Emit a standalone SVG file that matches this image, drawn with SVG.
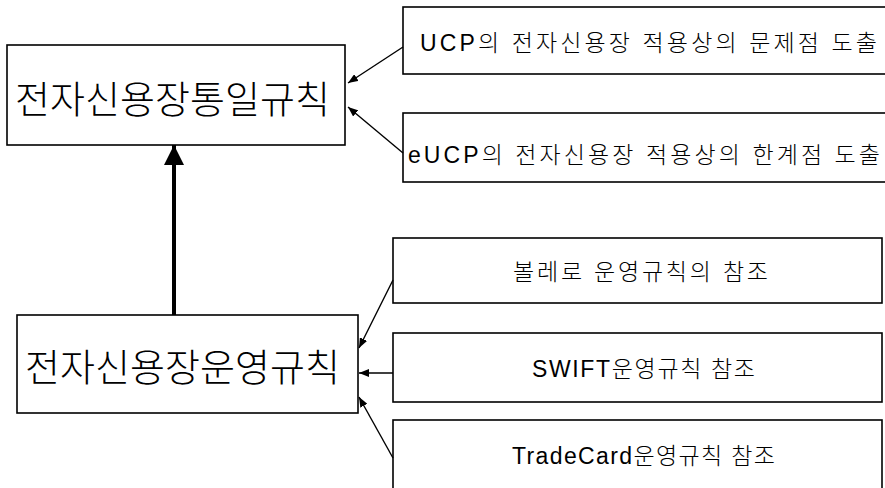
<svg xmlns="http://www.w3.org/2000/svg" width="885" height="488" viewBox="0 0 885 488">
<style>
.box{fill:#fff;stroke:#000;stroke-width:1.6}
.t{font-family:"Liberation Sans","Noto Sans CJK KR",sans-serif;font-weight:300;fill:#000;dominant-baseline:central}
.big{font-size:38px}
.sm{font-size:23px}
.con{stroke:#000;stroke-width:1.4;fill:none}
</style>
<defs>
<marker id="ah" viewBox="0 0 10 8" refX="10" refY="4" markerWidth="10" markerHeight="8" markerUnits="userSpaceOnUse" orient="auto">
<path d="M0,0 L10,4 L0,8 Z" fill="#000"/>
</marker>
<marker id="ahb" viewBox="0 0 20 20" refX="20" refY="10" markerWidth="20" markerHeight="20" markerUnits="userSpaceOnUse" orient="auto">
<path d="M0,0 L20,10 L0,20 Z" fill="#000"/>
</marker>
</defs>
<g id="node-unified">
<rect class="box" x="7" y="45" width="338" height="100"/>
<text class="t big" x="15" y="100" textLength="315">전자신용장통일규칙</text>
</g>
<g id="node-ucp">
<rect class="box" x="403" y="7" width="490" height="67"/>
<text class="t sm" x="420" y="43" textLength="457">UCP의 전자신용장 적용상의 문제점 도출</text>
</g>
<g id="node-eucp">
<rect class="box" x="403" y="113" width="490" height="69"/>
<text class="t sm" x="408" y="155" textLength="472">eUCP의 전자신용장 적용상의 한계점 도출</text>
</g>
<g id="node-operation">
<rect class="box" x="17" y="315" width="341" height="98"/>
<text class="t big" x="25" y="368" textLength="315">전자신용장운영규칙</text>
</g>
<g id="node-bolero">
<rect class="box" x="393" y="238" width="489" height="65"/>
<text class="t sm" x="513" y="272" textLength="255">볼레로 운영규칙의 참조</text>
</g>
<g id="node-swift">
<rect class="box" x="393" y="333" width="489" height="69"/>
<text class="t sm" x="532" y="369" textLength="223">SWIFT운영규칙 참조</text>
</g>
<g id="node-tradecard">
<rect class="box" x="393" y="420" width="489" height="80"/>
<text class="t sm" x="512" y="456" textLength="263">TradeCard운영규칙 참조</text>
</g>
<g id="connectors">
<line class="con" x1="403" y1="47" x2="348" y2="83" marker-end="url(#ah)"/>
<line class="con" x1="403" y1="153" x2="348" y2="107" marker-end="url(#ah)"/>
<line x1="174" y1="315" x2="174" y2="145" stroke="#000" stroke-width="4" marker-end="url(#ahb)"/>
<line class="con" x1="393" y1="280" x2="359" y2="348" marker-end="url(#ah)"/>
<line class="con" x1="393" y1="373" x2="359" y2="373" marker-end="url(#ah)"/>
<line class="con" x1="393" y1="458" x2="359" y2="397" marker-end="url(#ah)"/>
</g>
</svg>
